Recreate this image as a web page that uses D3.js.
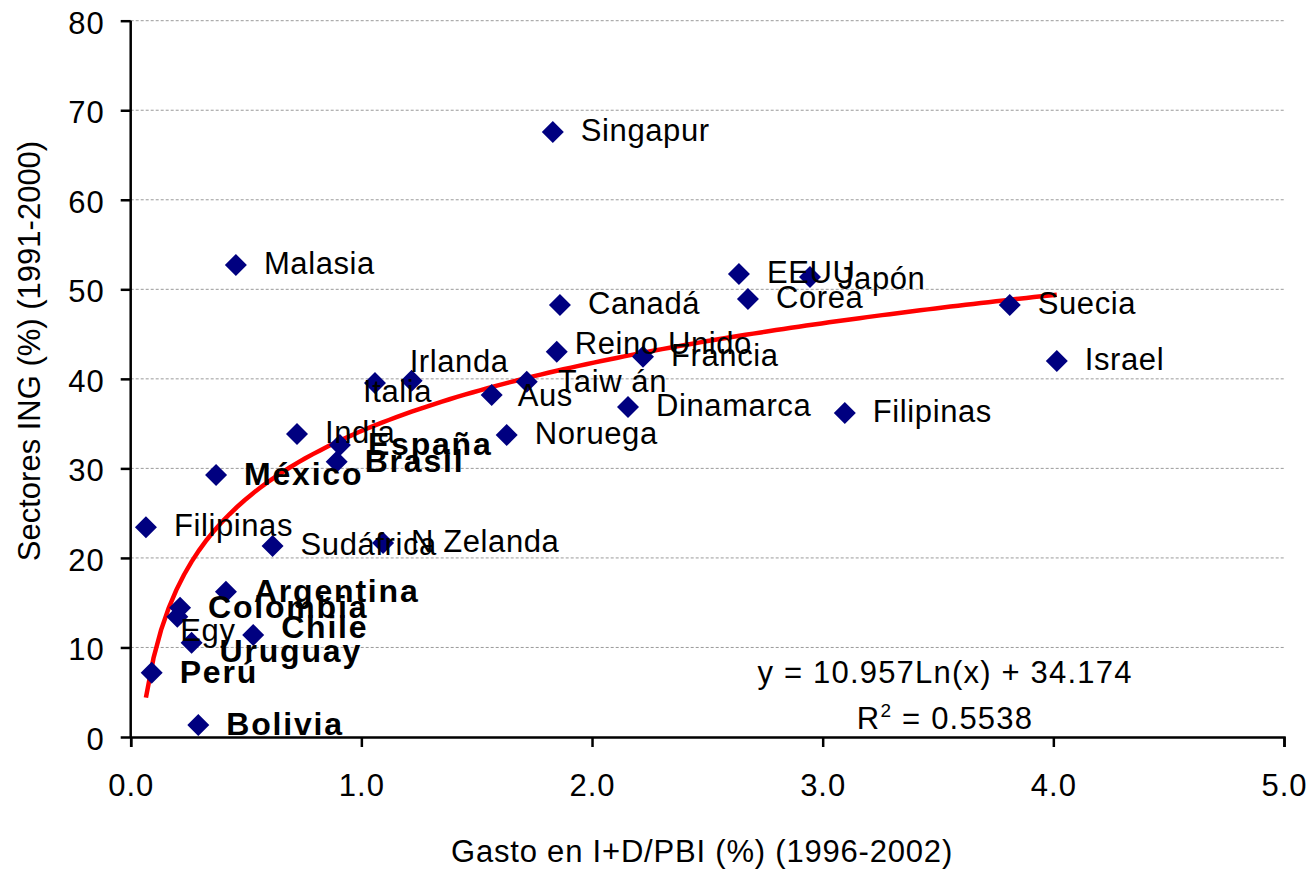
<!DOCTYPE html>
<html>
<head>
<meta charset="utf-8">
<script src="https://cdn.jsdelivr.net/npm/d3@7"></script>
<style>
  html, body { margin: 0; padding: 0; background: #fff; }
  svg { display: block; font-family: Arial, "Liberation Sans", sans-serif; }
</style>
</head>
<body>
<svg id="chart" width="1312" height="869"></svg>
<script>
// ---- data ----
const countries = ["Singapur","Malasia","EEUU","Japón","Canadá","Corea","Suecia","Reino Unido","Francia","Israel",
  "Irlanda","Italia","Aus","Taiw án","Dinamarca","Noruega","Filipinas","India","España","Brasil",
  "México","Filipinas","Sudáfrica","N Zelanda","Argentina","Colombia","Egy","Uruguay","Chile","Perú","Bolivia"];
const gastoID = [1.830,0.456,2.637,2.945,1.861,2.676,3.811,1.847,2.221,4.015,
  1.218,1.059,1.565,1.717,2.156,1.630,3.096,0.721,0.907,0.893,
  0.370,0.066,0.615,1.094,0.413,0.214,0.202,0.264,0.531,0.091,0.293];
const sectoresING = [67.57,52.71,51.71,51.37,48.25,48.92,48.25,43.03,42.47,41.99,
  39.79,39.54,38.20,39.68,36.86,33.73,36.19,33.84,32.61,30.75,
  29.26,23.42,21.33,21.67,16.23,14.44,13.44,10.53,11.39,7.18,1.34];
const boldCountries = ["México","España","Brasil","Argentina","Colombia","Chile","Uruguay","Perú","Bolivia"];
const xTicks = [0,1,2,3,4,5];
const yTicks = [0,10,20,30,40,50,60,70,80];
const trendA = 10.957, trendB = 34.174;
const eqText = "y = 10.957Ln(x) + 34.174";
const r2Value = "0.5538";

// label nudges (layout only, pixels)
const labelNudge = {
  7: [-10,-7], 10: [-30,-18], 11: [-40,10], 12: [-2,2], 13: [3,1],
  26: [-25,15], 27: [0,9], 28: [0,-7], 3: [0,3]
};

// ---- layout ----
const svg = d3.select("#chart");
const x = d3.scaleLinear().domain([0,5]).range([130.7,1284]);
const y = d3.scaleLinear().domain([0,80]).range([737,20.7]);
const FS = 31;

// gridlines
svg.append("g").selectAll("line").data(yTicks.filter(d => d > 0)).join("line")
  .attr("x1", x(0)).attr("x2", x(5))
  .attr("y1", d => y(d)).attr("y2", d => y(d))
  .attr("stroke", "#9a9a9a").attr("stroke-width", 1).attr("stroke-dasharray", "3,2");

// axes
const yAxis = d3.axisLeft(y).tickValues(yTicks).tickFormat(d3.format("d")).tickSizeOuter(0).tickSize(10).tickPadding(16);
const xAxis = d3.axisBottom(x).tickValues(xTicks).tickFormat(d3.format(".1f")).tickSizeOuter(0).tickSize(10).tickPadding(27);

const gy = svg.append("g").attr("transform", `translate(${x(0)},0)`).call(yAxis);
const gx = svg.append("g").attr("transform", `translate(0,${y(0)})`).call(xAxis);
[gx, gy].forEach(g => {
  g.selectAll("path, line").attr("stroke", "#000").attr("stroke-width", 2.5);
  g.selectAll("text").attr("font-size", FS).attr("fill", "#000").attr("letter-spacing", 1)
    .attr("font-family", "Arial, 'Liberation Sans', sans-serif");
});
gy.select(".domain").attr("d", `M0,${y(80)}V${y(0)}`);
gy.selectAll(".tick text").attr("dy", "0.4em");

// axis titles
svg.append("text").attr("x", 702).attr("y", 862).attr("text-anchor", "middle")
  .attr("font-size", FS).attr("letter-spacing", 0.8).text("Gasto en I+D/PBI (%) (1996-2002)");
svg.append("text").attr("transform", "translate(40,351) rotate(-90)").attr("text-anchor", "middle")
  .attr("font-size", FS).text("Sectores ING (%) (1991-2000)");

// trend line
const xmin = d3.min(gastoID), xmax = d3.max(gastoID);
const trendPts = d3.range(0, 121).map(i => {
  const xv = xmin + (xmax - xmin) * i / 120;
  return [xv, trendA * Math.log(xv) + trendB];
});
svg.append("path").datum(trendPts)
  .attr("d", d3.line().x(d => x(d[0])).y(d => y(d[1])))
  .attr("fill", "none").attr("stroke", "#ff0000").attr("stroke-width", 4.5);

// points
const pts = countries.map((c, i) => ({c, i, xv: gastoID[i], yv: sectoresING[i], bold: boldCountries.includes(c)}));
svg.append("g").selectAll("path").data(pts).join("path")
  .attr("transform", d => `translate(${x(d.xv)},${y(d.yv)})`)
  .attr("d", "M0,-11L11,0L0,11L-11,0Z")
  .attr("fill", "#000080");

// labels
svg.append("g").selectAll("text").data(pts).join("text")
  .attr("x", d => x(d.xv) + 28 + (labelNudge[d.i] ? labelNudge[d.i][0] : 0))
  .attr("y", d => y(d.yv) + (d.bold ? 10 : 9) + (labelNudge[d.i] ? labelNudge[d.i][1] : 0))
  .attr("font-size", d => d.bold ? 32 : FS)
  .attr("letter-spacing", d => d.bold ? 1.8 : 0.6)
  .attr("font-weight", d => d.bold ? "bold" : "normal")
  .attr("fill", "#000")
  .text(d => d.c);

// equation
svg.append("text").attr("x", 945).attr("y", 683).attr("text-anchor", "middle")
  .attr("font-size", FS).attr("letter-spacing", 1.2).text(eqText);
const r2 = svg.append("text").attr("x", 945).attr("y", 729).attr("text-anchor", "middle")
  .attr("font-size", FS).attr("letter-spacing", 1.2);
r2.append("tspan").text("R");
r2.append("tspan").attr("dy", -12).attr("font-size", 19).text("2");
r2.append("tspan").attr("dy", 12).text(" = " + r2Value);
</script>
</body>
</html>
